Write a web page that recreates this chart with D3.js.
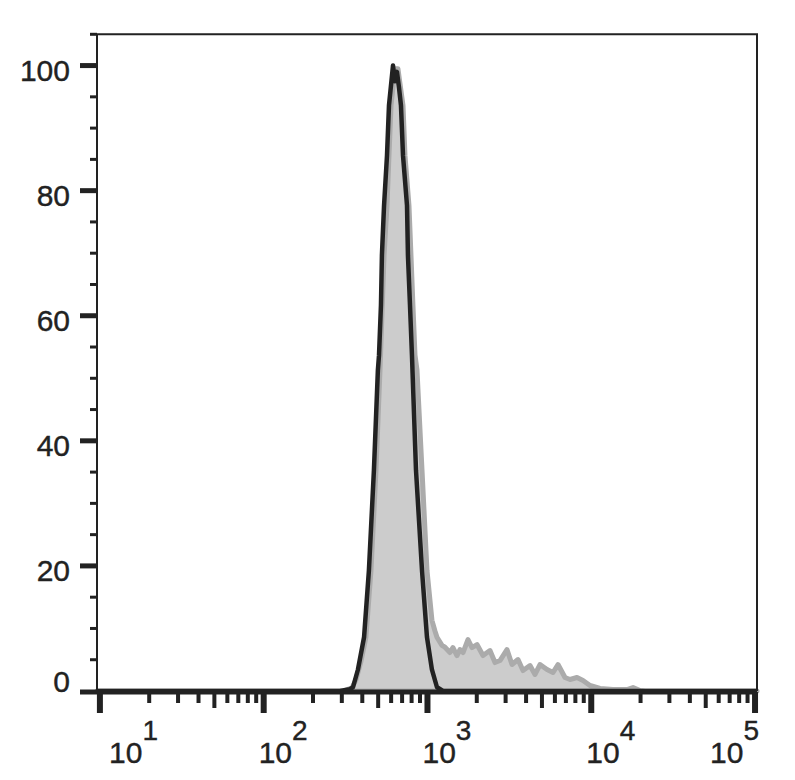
<!DOCTYPE html>
<html>
<head>
<meta charset="utf-8">
<script src="https://cdn.jsdelivr.net/npm/d3@7/dist/d3.min.js"></script>
<style>
  html, body { margin: 0; padding: 0; background: #fff; }
  svg { display: block; }
</style>
</head>
<body>
<svg id="chart" width="795" height="780"></svg>
<script>
// ---- Data (fluorescence intensity, % of max) ----
const blackX = [9.6, 292, 336, 351, 376, 410, 439, 471, 498, 506, 520, 527, 543, 566, 582, 616, 632, 651, 670, 689, 709, 750, 760, 782, 804, 851, 926, 993, 1065, 1143, 1244, 102800];
const blackY = [0, 0, 0.3, 0.6, 3.4, 8.6, 19.3, 35.3, 51.3, 53.7, 61.7, 69.6, 77.6, 85.6, 93.6, 100, 97.5, 99, 96.5, 93.6, 85.6, 77.6, 69.6, 61.7, 53.7, 35.3, 19.3, 8.6, 3.4, 0.6, 0, 0];

const greyX = [9.6, 305, 346, 366, 393, 421, 452, 485, 513, 543, 566, 582, 599, 633, 660, 709, 729, 771, 793, 815, 839, 863, 926, 993, 1065, 1111, 1143, 1226, 1279,
  1372, 1431, 1514, 1579, 1648, 1767, 1870, 2006, 2183, 2408, 2584, 2772, 3058, 3281, 3570, 3830, 4227, 4535, 4864, 5369, 5841, 6266, 6914, 7418, 8185, 8904, 9826, 11310, 13580, 16530, 17990, 19850, 21290, 102800];
const greyY = [0, 0, 0.5, 1.8, 4.8, 8.6, 19.3, 35.3, 51.3, 69.6, 77.6, 85.6, 93.6, 99.5, 99.5, 93.6, 85.6, 77.6, 69.6, 61.7, 53.7, 51.3, 35.3, 19.3, 11.3, 9.6, 8.6, 7.3, 7.0,
  6.15, 6.95, 5.67, 6.63, 6.15, 8.23, 6.95, 7.43, 5.67, 6.47, 4.55, 4.87, 6.63, 4.23, 5.03, 3.27, 4.07, 2.64, 4.23, 3.43, 2.96, 4.23, 2.16, 1.84, 2.16, 1.68, 0.88, 0.4, 0.24, 0.24, 0.56, 0.08, 0, 0];

const yTicks = [0, 20, 40, 60, 80, 100];
const yMinorTicks = [5, 10, 15, 25, 30, 35, 45, 50, 55, 65, 70, 75, 85, 90, 95, 105];
const xDecades = [1, 2, 3, 4, 5];
const xDomain = [9.6, 102800];
const yDomain = [0, 105];

// ---- Layout ----
const mLeft = 97, mRight = 757, mTop = 34.3, mBottom = 691;
const ink = "#222";
const font = "'Liberation Sans', Arial, sans-serif";

const svg = d3.select("#chart");
const x = d3.scaleLog().domain(xDomain).range([mLeft, mRight]);
const y = d3.scaleLinear().domain(yDomain).range([mBottom, mTop]);

const grey = greyX.map((v, i) => [v, greyY[i]]);
const black = blackX.map((v, i) => [v, blackY[i]]);

// grey filled histogram
svg.append("path")
  .datum(grey)
  .attr("d", d3.area().x(d => x(d[0])).y0(y(0)).y1(d => y(d[1])))
  .attr("fill", "#cccccc")
  .attr("stroke", "#ababab")
  .attr("stroke-width", 5)
  .attr("stroke-linejoin", "round");

// black outline histogram
svg.append("path")
  .datum(black)
  .attr("d", d3.line().x(d => x(d[0])).y(d => y(d[1])))
  .attr("fill", "none")
  .attr("stroke", ink)
  .attr("stroke-width", 4.5)
  .attr("stroke-linejoin", "round");

// frame: top and right thin lines, y axis line
svg.append("path")
  .attr("d", `M${mLeft},${mBottom}V${mTop}H${mRight}V${mBottom}`)
  .attr("fill", "none").attr("stroke", ink).attr("stroke-width", 2);

// x axis thick line
svg.append("line")
  .attr("x1", mLeft).attr("x2", mRight).attr("y1", y(0) + 1).attr("y2", y(0) + 1)
  .attr("stroke", ink).attr("stroke-width", 5);

// y ticks
svg.selectAll(".ymaj").data(yTicks).enter().append("line")
  .attr("x1", mLeft - 17).attr("x2", mLeft).attr("y1", d => y(d) + (d === 0 ? 1 : 0)).attr("y2", d => y(d) + (d === 0 ? 1 : 0))
  .attr("stroke", ink).attr("stroke-width", 5);
svg.selectAll(".ymin").data(yMinorTicks).enter().append("line")
  .attr("x1", mLeft - 7).attr("x2", mLeft).attr("y1", d => y(d)).attr("y2", d => y(d))
  .attr("stroke", ink).attr("stroke-width", 3);
svg.selectAll(".ylab").data(yTicks).enter().append("text")
  .attr("x", 70)
  .attr("y", d => Math.min(y(d) + 15.5, y(0) + 1))
  .attr("text-anchor", "end")
  .attr("font-family", font).attr("font-size", 30).attr("fill", ink)
  .attr("stroke", ink).attr("stroke-width", 0.4)
  .text(d => d);

// x ticks
const xMinor = [];
xDecades.slice(0, -1).forEach(k => {
  for (let m = 2; m <= 9; m++) xMinor.push({ v: m * Math.pow(10, k), m });
});
const axY = y(0) + 1;
svg.selectAll(".xmin").data(xMinor).enter().append("line")
  .attr("x1", d => x(d.v)).attr("x2", d => x(d.v))
  .attr("y1", axY).attr("y2", d => axY + (d.m === 5 ? 16 : 11))
  .attr("stroke", ink).attr("stroke-width", 4);
svg.selectAll(".xmaj").data(xDecades).enter().append("line")
  .attr("x1", d => x(Math.pow(10, d))).attr("x2", d => x(Math.pow(10, d)))
  .attr("y1", axY).attr("y2", axY + 21)
  .attr("stroke", ink).attr("stroke-width", 6);

const labels = svg.selectAll(".xlab").data(xDecades).enter().append("text")
  .attr("y", 763)
  .attr("font-family", font).attr("font-size", 30).attr("fill", ink)
  .attr("stroke", ink).attr("stroke-width", 0.4);
labels.append("tspan").text("10");
labels.append("tspan").attr("dy", -23).attr("font-size", 28).text(d => d);
labels.each(function (d) {
  const t = d3.select(this);
  const w = this.getComputedTextLength();
  let px = x(Math.pow(10, d)) - 5;
  if (px < mLeft + 12) px = mLeft + 12;
  if (px + w > mRight + 2) px = mRight + 2 - w;
  t.attr("x", px);
});
</script>
</body>
</html>
